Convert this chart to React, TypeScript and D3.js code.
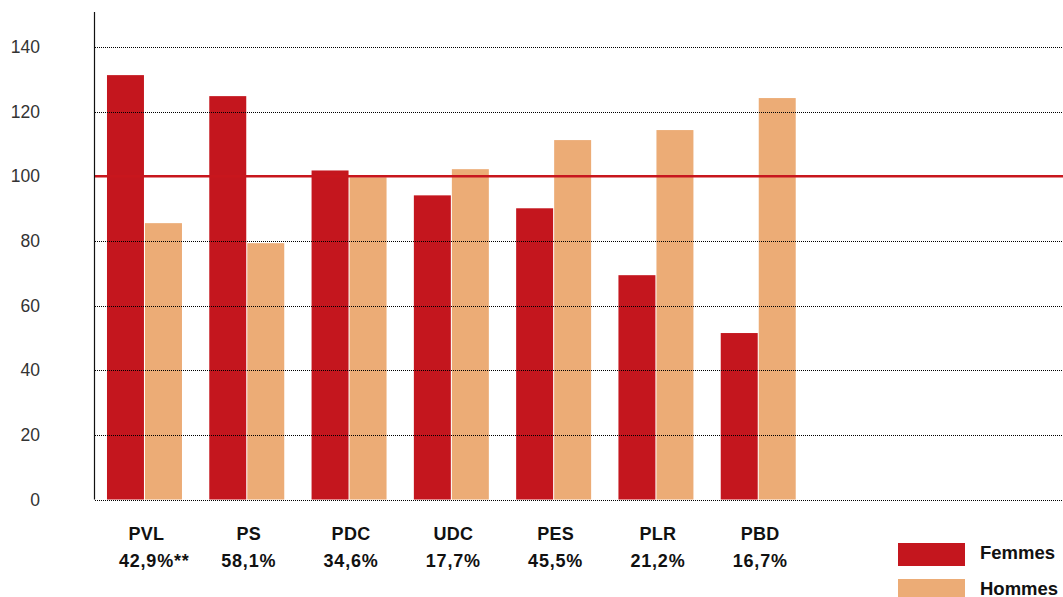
import * as d3 from 'd3';
import React, { useEffect, useRef } from 'react';

const parties = ['PVL', 'PS', 'PDC', 'UDC', 'PES', 'PLR', 'PBD'];
const shares = ['42,9%', '58,1%', '34,6%', '17,7%', '45,5%', '21,2%', '16,7%'];
const shareNotes = ['**', '', '', '', '', '', ''];
const femmes = [131.3, 124.8, 101.8, 94.1, 90.1, 69.4, 51.5];
const hommes = [85.5, 79.3, 99.7, 102.2, 111.2, 114.3, 124.2];
const series = ['Femmes', 'Hommes'];
const yTicks = [0, 20, 40, 60, 80, 100, 120, 140];
const refValue = 100;

const colors: Record<string, string> = {
   Femmes: '#c4161e',
   Hommes: '#ecac76',
};

const App = () => {
   const svgRef = useRef<SVGSVGElement | null>(null);

   useEffect(() => {
      const svg = d3.select(svgRef.current);
      svg.selectAll('*').remove();

      const axisX = 94.5;
      const plotRight = 1063;

      const y = d3.scaleLinear().domain([0, 140]).range([499.5, 47]);

      // groups: step ~102.3px, each bar 37px with a 1px gap
      const x0 = d3
         .scaleBand<string>()
         .domain(parties)
         .range([axisX, axisX + 713.7])
         .paddingInner(0.267)
         .paddingOuter(0.122);
      const x1 = d3
         .scaleBand<string>()
         .domain(series)
         .range([0, x0.bandwidth()])
         .paddingInner(0.027);

      const font = '"Liberation Sans", Arial, sans-serif';

      // bars
      const rows = parties.map((p, i) => ({ party: p, Femmes: femmes[i], Hommes: hommes[i] }));
      const groups = svg
         .append('g')
         .selectAll('g')
         .data(rows)
         .join('g')
         .attr('transform', (d) => `translate(${x0(d.party)},0)`);

      groups
         .selectAll('rect')
         .data((d) => series.map((s) => ({ key: s, value: (d as any)[s] as number })))
         .join('rect')
         .attr('x', (d) => x1(d.key)!)
         .attr('width', x1.bandwidth())
         .attr('y', (d) => y(d.value))
         .attr('height', (d) => y(0) - y(d.value))
         .attr('fill', (d) => colors[d.key]);

      // dotted grid on top of bars
      const grid = svg.append('g');
      yTicks.forEach((t) => {
         if (t === refValue) return;
         grid
            .append('line')
            .attr('x1', 95)
            .attr('x2', plotRight)
            .attr('y1', Math.round(y(t)) + 0.5)
            .attr('y2', Math.round(y(t)) + 0.5)
            .attr('stroke', '#000')
            .attr('stroke-width', 1)
            .attr('stroke-dasharray', '1,1');
      });

      // reference line at 100
      svg.append('line')
         .attr('x1', axisX)
         .attr('x2', plotRight)
         .attr('y1', y(refValue))
         .attr('y2', y(refValue))
         .attr('stroke', '#c8161d')
         .attr('stroke-width', 2.5);

      // y axis line
      svg.append('line')
         .attr('x1', axisX)
         .attr('x2', axisX)
         .attr('y1', 12)
         .attr('y2', y(0))
         .attr('stroke', '#111')
         .attr('stroke-width', 1.2);

      // y tick labels
      svg.append('g')
         .selectAll('text')
         .data(yTicks)
         .join('text')
         .attr('x', 40)
         .attr('y', (d) => y(d))
         .attr('dy', '0.35em')
         .attr('text-anchor', 'end')
         .attr('font-family', font)
         .attr('font-size', 17.5)
         .attr('fill', '#333')
         .text((d) => d);

      // category labels
      const labels = svg.append('g').attr('font-family', font).attr('font-weight', 'bold').attr('fill', '#111');
      parties.forEach((p, i) => {
         const cx = x0(p)! + x0.bandwidth() / 2 + 2;
         labels
            .append('text')
            .attr('x', cx)
            .attr('y', 539.5)
            .attr('text-anchor', 'middle')
            .attr('font-size', 18)
            .attr('letter-spacing', 0.3)
            .text(p);
         const share = labels
            .append('text')
            .attr('x', cx)
            .attr('y', 566.5)
            .attr('text-anchor', 'middle')
            .attr('font-size', 18)
            .attr('letter-spacing', 0.8)
            .text(shares[i]);
         if (shareNotes[i]) {
            const w = (share.node() as SVGTextElement).getComputedTextLength();
            labels
               .append('text')
               .attr('x', cx + w / 2)
               .attr('y', 566.5)
               .attr('font-size', 18)
               .attr('letter-spacing', 0.8)
               .text(shareNotes[i]);
         }
      });

      // legend
      const legend = svg.append('g').attr('font-family', font).attr('font-weight', 'bold');
      series.forEach((s, i) => {
         const top = 543 + i * 36;
         legend
            .append('rect')
            .attr('x', 898)
            .attr('y', top)
            .attr('width', 67)
            .attr('height', 23)
            .attr('fill', colors[s]);
         legend
            .append('text')
            .attr('x', 980)
            .attr('y', top + 10)
            .attr('dy', '0.35em')
            .attr('font-size', 18.5)
            .attr('fill', '#111')
            .text(s);
      });
   }, []);

   return (
      <svg
         ref={svgRef}
         width={1063}
         height={597}
         style={{ position: 'absolute', left: 0, top: 0, background: '#fff' }}
      />
   );
};

export default App;
